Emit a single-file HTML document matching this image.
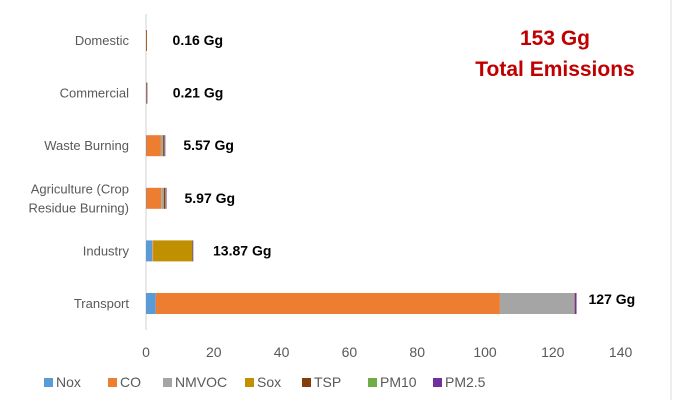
<!DOCTYPE html>
<html><head><meta charset="utf-8"><style>
body{margin:0;background:#fff;font-family:"Liberation Sans",sans-serif}
svg text{font-family:"Liberation Sans",sans-serif}
</style></head><body>
<svg width="700" height="400">
<line x1="671" y1="0" x2="671" y2="400" stroke="#ddd"/>
<line x1="146" y1="14" x2="146" y2="330" stroke="#d0d0d0"/>
<text x="555" y="45" fill="#c00000" font-size="21" font-weight="bold" text-anchor="middle">153 Gg</text>
<text x="555" y="76" fill="#c00000" font-size="21" font-weight="bold" text-anchor="middle">Total Emissions</text>
<g id="bars"></g><g id="xt"></g><g id="cats"></g><g id="legend"></g>
</svg>
<script>
const categories=["Domestic","Commercial","Waste Burning","Agriculture (Crop|Residue Burning)","Industry","Transport"];
const totals=["0.16 Gg","0.21 Gg","5.57 Gg","5.97 Gg","13.87 Gg","127 Gg"];
const seriesNames=["Nox","CO","NMVOC","Sox","TSP","PM10","PM2.5"];
const colors=["#5b9bd5","#ed7d31","#a5a5a5","#c09000","#843c0c","#70ad47","#7030a0"];
const nox=[0.02,0.03,0.1,0.1,1.8,2.9];
const co=[0.1,0.12,4.3,4.4,0.2,101.5];
const nmvoc=[0.02,0.03,0.6,0.7,0.1,22];
const sox=[0.01,0.01,0.1,0.1,11.5,0.1];
const tsp=[0.01,0.01,0.3,0.4,0.1,0];
const pm10=[0,0.005,0.1,0.15,0.1,0];
const pm25=[0,0.005,0.2,0.2,0.07,0.5];
const xticks=[0,20,40,60,80,100,120,140];
const series=[nox,co,nmvoc,sox,tsp,pm10,pm25];
const NS="http://www.w3.org/2000/svg";
const x=v=>146+v*3.39;
const y=i=>40+i*52.6;
function mk(t,a,p,txt){const e=document.createElementNS(NS,t);for(const k in a)e.setAttribute(k,a[k]);if(txt!==undefined)e.textContent=txt;p.appendChild(e);return e;}
const bars=document.getElementById('bars');
categories.forEach((c,i)=>{
 let acc=0;
 series.forEach((s,j)=>{
  const v=s[i]; if(v<=0)return;
  const r=mk('rect',{x:x(acc),y:y(i)-10,width:Math.max(x(acc+v)-x(acc),0.5),height:21,fill:colors[j]},bars);
  
  
  acc+=v;
 });
 const end=x(acc);
 const lab=mk('text',{x:i==5?end+12:end+(i<2?26:i==4?20:18),y:y(i)+(i==5?1:5),'font-size':14,'font-weight':'bold',fill:'#000'},bars,totals[i]);
 
 
 const g=document.getElementById('cats');
 const parts=c.split('|');
 parts.forEach((p,k)=>{
  const t=mk('text',{x:129,y:y(i)+5+(k-(parts.length-1)/2)*19,'font-size':13,fill:'#595959','text-anchor':'end'},g,p);
  
  
 });
});
const xt=document.getElementById('xt');
xticks.forEach(v=>{
 const t=mk('text',{x:x(v),y:357,'font-size':14,fill:'#595959','text-anchor':'middle'},xt,v);
 
 
});
const lx=[44,108,163,245,302,368,433];
const lg=document.getElementById('legend');
seriesNames.forEach((n,j)=>{
 const r=mk('rect',{x:lx[j],y:378,width:9,height:9,fill:colors[j]},lg);
 
 
 const t=mk('text',{x:lx[j]+12,y:387,'font-size':14,fill:'#595959'},lg,n);
 
 
});
</script>
</body></html>
